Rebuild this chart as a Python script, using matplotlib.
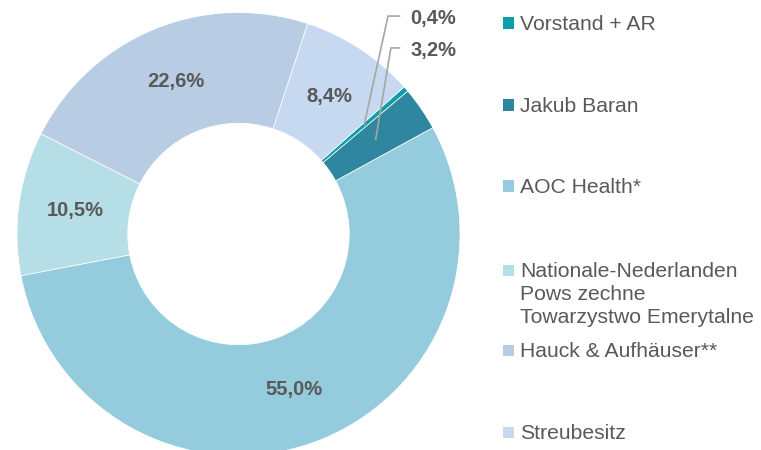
import numpy as np
import matplotlib
matplotlib.use("Agg")
import matplotlib.pyplot as plt
from matplotlib.patches import Rectangle

plt.rcParams['font.family'] = ['Liberation Sans', 'DejaVu Sans']

categories = ["Vorstand + AR", "Jakub Baran", "AOC Health*",
              "Nationale-Nederlanden\nPows zechne\nTowarzystwo Emerytalne",
              "Hauck & Aufhäuser**", "Streubesitz"]
values = [0.4, 3.2, 55.0, 10.5, 22.6, 8.4]
value_labels = ["0,4%", "3,2%", "55,0%", "10,5%", "22,6%", "8,4%"]
colors = ["#0E9EA9", "#2F869F", "#94CBDD", "#B6DEE7", "#B8CDE4", "#C7D9F0"]

W, H = 761, 450
fig = plt.figure(figsize=(W / 100, H / 100), dpi=100)

cx, cy, R = 238.5, 450 - 234, 221.5
ax = fig.add_axes([(cx - R) / W, (cy - R) / H, 2 * R / W, 2 * R / H])
start = 41.6
wedges, _ = ax.pie(values, colors=colors, startangle=start, counterclock=False,
                   radius=1.0, wedgeprops=dict(width=0.5, edgecolor="white", linewidth=0.5))
ax.set_xlim(-1, 1)
ax.set_ylim(-1, 1)
ax.set_aspect("equal")
ax.axis("off")

txtcol = "#595959"
# in-ring labels
for i, w in enumerate(wedges):
    mid = np.deg2rad((w.theta1 + w.theta2) / 2)
    if values[i] < 5:
        continue
    ax.text(0.745 * np.cos(mid), 0.745 * np.sin(mid), value_labels[i],
            ha="center", va="center", fontsize=14.5, fontweight="bold", color=txtcol)

# leader labels for small slices
leader = {0: (0.675, 0.984, 0.73), 1: (0.688, 0.84, 0.73)}
for i, (ex, ey, hx) in leader.items():
    w = wedges[i]
    mid = np.deg2rad((w.theta1 + w.theta2) / 2)
    px, py = 0.75 * np.cos(mid), 0.75 * np.sin(mid)
    ax.plot([px, ex, hx], [py, ey, ey], color="#A6A6A6", lw=1.2,
            solid_capstyle="butt", clip_on=False)
    ax.text(hx + 0.045, ey - 0.01, value_labels[i], ha="left", va="center",
            fontsize=14.5, fontweight="bold", color=txtcol)

# manual legend (baselines in pixels from top)
leg_base = [30, 112, 193, 277, 357, 439]
line_gap = 23
for i, (lab, yb) in enumerate(zip(categories, leg_base)):
    sc = yb - 7
    fig.patches.append(Rectangle((503 / W, (H - sc - 5.5) / H), 11 / W, 11 / H,
                                 transform=fig.transFigure, facecolor=colors[i],
                                 edgecolor="none"))
    for k, line in enumerate(lab.split("\n")):
        fig.text(520 / W, (H - yb - k * line_gap) / H, line, ha="left", va="baseline",
                 fontsize=15.25, color=txtcol)

fig.savefig("out.png", dpi=100, facecolor="white")
